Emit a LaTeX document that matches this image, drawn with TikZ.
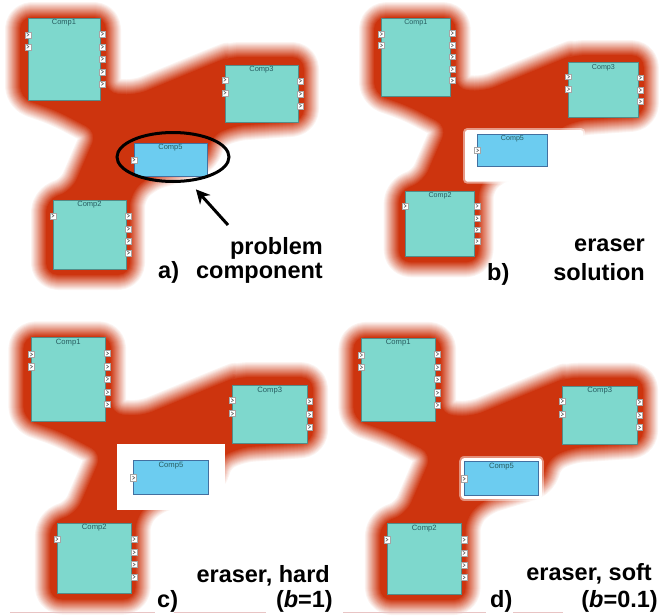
\documentclass[tikz,border=0pt]{standalone}
\usepackage{fontspec}
\setmainfont{Liberation Sans}
\usepackage{tikz}
\usetikzlibrary{shapes.geometric, arrows.meta}
\definecolor{blobred}{RGB}{205,52,14}
\definecolor{compteal}{RGB}{126,216,205}
\definecolor{compblue}{RGB}{108,204,240}
\definecolor{compline}{RGB}{84,140,136}
\definecolor{titlecol}{RGB}{40,92,96}
\definecolor{rulepink}{RGB}{232,196,196}

% outline of the red cloud, in the coordinates of panel a
\newcommand{\blobpath}{(20,17) -- (106,17) -- (106,93) -- (136,95) -- (216,62) -- (229,57) -- (304,57) -- (304,121) -- (233,126) -- (210,137) -- (206,159) -- (147,177) -- (130,195) -- (130,275) -- (46,275) -- (46,200) -- (72,190) -- (97,132) -- (57,111) -- (20,98) -- cycle}

\newcommand{\blob}{%
  \foreach \d in {15,14,...,1} {
    \pgfmathtruncatemacro{\blobpc}{100-100*\d/16}
    \draw[line width={2*\d*1pt}, blobred!\blobpc!white, line join=round, rounded corners=12pt] \blobpath;
  }
  \fill[blobred, rounded corners=12pt] \blobpath;
}

% the four components; #2 = centre of Comp5
\newcommand{\comps}[2]{%
  \node[comp, minimum width=72pt, minimum height=82pt, label={[comptitle]north:Comp1}] (#1c1) at (64,59) {};
  \foreach \o in {17,29} \node[port] (#1c1l\o) at ([yshift=-\o pt]#1c1.north west) {};
  \foreach \o in {16,29,41,54,66} \node[port] (#1c1r\o) at ([xshift=2pt,yshift=-\o pt]#1c1.north east) {};
  \node[comp, minimum width=73pt, minimum height=57pt, label={[comptitle]north:Comp3}] (#1c3) at (261.5,93.5) {};
  \foreach \o in {15,28} \node[port] (#1c3l\o) at ([yshift=-\o pt]#1c3.north west) {};
  \foreach \o in {16,29,41} \node[port] (#1c3r\o) at ([xshift=2pt,yshift=-\o pt]#1c3.north east) {};
  \node[comp, minimum width=73pt, minimum height=69pt, label={[comptitle]north:Comp2}] (#1c2) at (89.5,234.5) {};
  \node[port] (#1c2l16) at ([yshift=-16pt]#1c2.north west) {};
  \foreach \o in {16,29,41,53} \node[port] (#1c2r\o) at ([xshift=2pt,yshift=-\o pt]#1c2.north east) {};
  \node[comp, fill=compblue, draw=compline!80!blue, minimum width=73pt, minimum height=33pt, label={[comptitle]north:Comp5}] (#1c5) at #2 {};
  \node[port] (#1c5l17) at ([yshift=-17pt]#1c5.north west) {};
}

\begin{document}
\begin{tikzpicture}[x=1pt, y=-1pt,
    comp/.style={draw=compline, fill=compteal, inner sep=0pt, line width=0.6pt},
    comptitle/.style={anchor=north, inner sep=1.5pt, text=titlecol, font=\fontsize{7.5}{8}\selectfont},
    port/.style={draw=gray!70, fill=white, minimum size=6pt, inner sep=0pt, line width=0.4pt,
      path picture={\draw[black!60, line width=0.6pt] ([xshift=-1pt,yshift=1.6pt]path picture bounding box.center) -- ([xshift=1.2pt]path picture bounding box.center) -- ([xshift=-1pt,yshift=-1.6pt]path picture bounding box.center);}},
    caption/.style={font=\fontsize{23.5}{26}\selectfont\bfseries, inner sep=0pt},
    pointer/.style={line width=3pt, -{Stealth[length=14pt,width=14pt]}, shorten >=10pt},
    eraser/.style={fill=white}
  ]
  \useasboundingbox (0,0) rectangle (665,616);

  % a) problem component
  \begin{scope}
    \blob
    \comps{a}{(170.5,159.5)}
    \node[draw, ellipse, line width=3pt, minimum width=112pt, minimum height=49pt, inner sep=0pt] (ring) at (173,157) {};
    \coordinate (tail) at (228,225);
    \draw[pointer] (tail) -- (ring.303);
  \end{scope}
  \node[caption, anchor=base east] (capa1) at (323,254) {problem};
  \node[caption, anchor=base east] (capa2) at (323,278) {component};
  \node[caption, anchor=base west] (laba) at (158,278) {a)};

  % b) eraser solution
  \begin{scope}[shift={(355,1)}, scale=0.95, transform shape]
    \blob
    \draw[white, line width=4pt, opacity=0.5, rounded corners=2pt] (116,136) rectangle (240,190);
    \fill[eraser, rounded corners=2pt] (116,136) rectangle (240,190);
    \comps{b}{(165.75,157)}
  \end{scope}
  \node[caption, anchor=base east] (capb1) at (645,251) {eraser};
  \node[caption, anchor=base east] (capb2) at (645,280) {solution};
  \node[caption, anchor=base west] (labb) at (487,280) {b)};

  % c) hard eraser
  \begin{scope}[shift={(3,319)}, scale=1.02, transform shape]
    \blob
    \fill[eraser] (112,122.5) rectangle (217.6,187);
    \comps{c}{(164.7,155.4)}
  \end{scope}
  \coordinate (rc1) at (10,612);
  \coordinate (rc2) at (155,612);
  \coordinate (rc3) at (174,612);
  \coordinate (rc4) at (266,612);
  \draw[rulepink, line width=0.8pt] (rc1) -- (rc2) (rc3) -- (rc4);
  \node[caption, anchor=base east] (capc1) at (330,582) {eraser, hard};
  \node[caption, anchor=base east] (capc2) at (333,607) {(\textit{b}=1)};
  \node[caption, anchor=base west] (labc) at (157,607) {c)};

  % d) soft eraser
  \begin{scope}[shift={(333,319.6)}, scale=1.02, transform shape]
    \blob
    \draw[line width=11pt, white, opacity=0.45, line join=round] (128.7,139.3) rectangle (201.7,172.3);
    \draw[line width=7pt, white, line join=round] (128.7,139.3) rectangle (201.7,172.3);
    \comps{d}{(165.2,155.8)}
  \end{scope}
  \coordinate (rd1) at (343,612);
  \coordinate (rd2) at (486,612);
  \coordinate (rd3) at (513,612);
  \coordinate (rd4) at (563,612);
  \draw[rulepink, line width=0.8pt] (rd1) -- (rd2) (rd3) -- (rd4);
  \node[caption, anchor=base east] (capd1) at (652,580) {eraser, soft};
  \node[caption, anchor=base east] (capd2) at (658,607) {(\textit{b}=0.1)};
  \node[caption, anchor=base west] (labd) at (490,607) {d)};
\end{tikzpicture}
\end{document}
